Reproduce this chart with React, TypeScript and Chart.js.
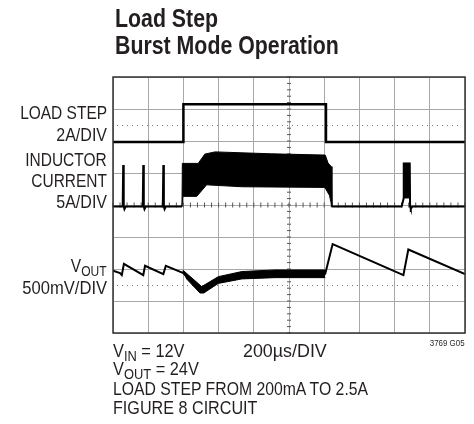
import React, { useEffect, useRef } from "react";
import { Chart, registerables } from "chart.js";

Chart.register(...registerables);

// ---- scope grid (divisions) ----
const xRange = [0, 10];
const yRange = [0, 8];
const dottedLevels = [6.5, 1.5];
const centerX = 5;
const centerY = 4;

// ---- LOAD STEP trace ----
const loadStepX = [0, 2.0, 2.0, 6.05, 6.05, 10];
const loadStepY = [5.97, 5.97, 7.15, 7.15, 5.97, 5.97];

// ---- INDUCTOR CURRENT trace (baseline + burst pulses) ----
const inductorX = [0, 0.275, 0.29, 0.305, 0.325, 0.36, 0.845, 0.86, 0.875, 0.895, 0.93, 1.415, 1.43, 1.445, 1.465, 1.5, 1.96, 4.0, 6.22, 8.2, 8.26, 8.26, 8.43, 8.44, 8.46, 8.5, 10];
const inductorY = [3.95, 3.95, 5.25, 3.95, 3.87, 3.95, 3.95, 5.25, 3.95, 3.87, 3.95, 3.95, 5.25, 3.95, 3.87, 3.95, 3.95, null, 3.95, 3.95, 4.22, 5.3, 5.3, 3.95, 3.88, 3.95, 3.95];

// burst envelope 1 (load high)
const burst1UpperX = [1.96, 1.97, 2.42, 2.61, 2.9, 4.5, 6.03, 6.11, 6.2, 6.22];
const burst1UpperY = [3.95, 5.3, 5.3, 5.59, 5.66, 5.6, 5.56, 5.31, 5.2, 3.95];
const burst1LowerX = [1.96, 1.98, 2.38, 2.66, 3.66, 6.02, 6.15, 6.22];
const burst1LowerY = [3.95, 4.27, 4.27, 4.63, 4.57, 4.55, 4.3, 3.95];

// burst envelope 2
const burst2UpperX = [8.26, 8.43];
const burst2UpperY = [5.3, 5.3];
const burst2LowerX = [8.26, 8.43];
const burst2LowerY = [4.22, 4.22];

// ---- VOUT trace ----
const voutX = [0, 0.2, 0.25, 0.31, 0.86, 0.91, 1.43, 1.5, 2.0, 2.52, 2.99, 3.66, 4.6, 6.03, 6.24, 8.25, 8.39, 10];
const voutY = [1.95, 1.87, 1.81, 2.16, 1.81, 2.1, 1.84, 2.1, 1.87, 1.34, 1.66, 1.8, 1.85, 1.85, 2.78, 1.81, 2.61, 1.84];

const voutBandUpperX = [1.98, 2.52, 2.99, 3.66, 4.6, 6.03];
const voutBandUpperY = [1.97, 1.45, 1.76, 1.92, 1.97, 1.97];
const voutBandLowerX = [1.98, 2.1, 2.47, 2.58, 2.99, 3.66, 4.6, 6.03];
const voutBandLowerY = [1.92, 1.68, 1.25, 1.25, 1.55, 1.69, 1.73, 1.73];

const pts = (xs: number[], ys: (number | null)[]) => xs.map((x, i) => ({ x, y: ys[i] }));

const FONT = "'Liberation Sans', Arial, Helvetica, sans-serif";
const INK = "#231f20";

const scopePlugin = {
  id: "scopeDecor",
  beforeDatasetsDraw(chart: any) {
    const { ctx, chartArea, scales } = chart;
    const xs = scales.x;
    const ys = scales.y;
    ctx.save();
    ctx.strokeStyle = "#777";
    ctx.lineWidth = 1;
    ctx.setLineDash([1, 4]);
    dottedLevels.forEach((v) => {
      const py = Math.round(ys.getPixelForValue(v)) + 0.5;
      ctx.beginPath();
      ctx.moveTo(chartArea.left + 4, py);
      ctx.lineTo(chartArea.right - 4, py);
      ctx.stroke();
    });
    ctx.setLineDash([]);
    ctx.strokeStyle = "#555";
    const cx = xs.getPixelForValue(centerX);
    const cy = ys.getPixelForValue(centerY);
    for (let k = 0; k <= 40; k++) {
      const py = ys.getPixelForValue(k * 0.2);
      ctx.beginPath();
      ctx.moveTo(cx - 2, py);
      ctx.lineTo(cx + 2, py);
      ctx.stroke();
    }
    for (let k = 0; k <= 50; k++) {
      const px = xs.getPixelForValue(k * 0.2);
      ctx.beginPath();
      ctx.moveTo(px, cy - 2.5);
      ctx.lineTo(px, cy + 2.5);
      ctx.stroke();
    }
    ctx.restore();
  },
  afterDatasetsDraw(chart: any) {
    const { ctx, chartArea } = chart;
    ctx.save();
    ctx.strokeStyle = "#333";
    ctx.lineWidth = 1.5;
    ctx.strokeRect(chartArea.left, chartArea.top, chartArea.right - chartArea.left, chartArea.bottom - chartArea.top);
    ctx.restore();
  },
};

function Txt(props: { left?: number; right?: number; baseline: number; size: number; squeeze: number; bold?: boolean; children: React.ReactNode }) {
  const { left, right, baseline, size, squeeze, bold, children } = props;
  const style: React.CSSProperties = {
    position: "absolute",
    top: baseline - 0.8465 * size,
    fontSize: size,
    lineHeight: `${size}px`,
    fontFamily: FONT,
    fontWeight: bold ? 700 : 400,
    color: INK,
    whiteSpace: "nowrap",
  };
  const isRight = right !== undefined;
  if (left !== undefined) style.left = left;
  if (isRight) {
    style.right = 474 - (right as number);
    style.textAlign = "right";
  }
  return (
    <div style={style}>
      <span style={{ display: "inline-block", transform: `scaleX(${squeeze})`, transformOrigin: isRight ? "right center" : "left center" }}>{children}</span>
    </div>
  );
}

function Sub(props: { children: React.ReactNode; size: number }) {
  return <span style={{ fontSize: props.size, verticalAlign: -4 }}>{props.children}</span>;
}

export default function App() {
  const ref = useRef<HTMLCanvasElement | null>(null);

  useEffect(() => {
    if (!ref.current) return;
    const line = (data: any[], extra: any = {}) => ({
      data,
      borderColor: "#000",
      backgroundColor: "#000",
      borderWidth: 2,
      pointRadius: 0,
      tension: 0,
      spanGaps: false,
      fill: false,
      ...extra,
    });
    const chart = new Chart(ref.current, {
      type: "line",
      data: {
        datasets: [
          line(pts(loadStepX, loadStepY), { borderWidth: 2.5 }),
          line(pts(inductorX, inductorY), { borderWidth: 2 }),
          line(pts(burst1UpperX, burst1UpperY), { borderWidth: 1, fill: "+1" }),
          line(pts(burst1LowerX, burst1LowerY), { borderWidth: 1 }),
          line(pts(burst2UpperX, burst2UpperY), { borderWidth: 1, fill: "+1" }),
          line(pts(burst2LowerX, burst2LowerY), { borderWidth: 1 }),
          line(pts(voutX, voutY), { borderWidth: 2 }),
          line(pts(voutBandUpperX, voutBandUpperY), { borderWidth: 1, fill: "+1" }),
          line(pts(voutBandLowerX, voutBandLowerY), { borderWidth: 1 }),
        ],
      },
      options: {
        responsive: false,
        maintainAspectRatio: false,
        animation: false,
        layout: { padding: { left: 113, top: 77, right: 9, bottom: 91 } },
        plugins: { legend: { display: false }, tooltip: { enabled: false } },
        scales: {
          x: {
            type: "linear",
            min: xRange[0],
            max: xRange[1],
            ticks: { display: false, stepSize: 1 },
            grid: { color: "#a8a8a8", lineWidth: 1, drawTicks: false },
            border: { display: false },
          },
          y: {
            type: "linear",
            min: yRange[0],
            max: yRange[1],
            ticks: { display: false, stepSize: 1 },
            grid: { color: "#a8a8a8", lineWidth: 1, drawTicks: false },
            border: { display: false },
          },
        },
      },
      plugins: [scopePlugin],
    });
    return () => chart.destroy();
  }, []);

  return (
    <div style={{ position: "absolute", left: 0, top: 0, width: 474, height: 424, background: "#fff", overflow: "hidden" }}>
      <canvas ref={ref} width={474} height={424} style={{ position: "absolute", left: 0, top: 0, width: 474, height: 424 }} />
      <Txt left={115} baseline={27} size={26} squeeze={0.82} bold>Load Step</Txt>
      <Txt left={115} baseline={54} size={26} squeeze={0.82} bold>Burst Mode Operation</Txt>

      <Txt right={107} baseline={119.5} size={18} squeeze={0.86}>LOAD STEP</Txt>
      <Txt right={107} baseline={141.5} size={18} squeeze={0.89}>2A/DIV</Txt>
      <Txt right={107} baseline={166} size={18} squeeze={0.86}>INDUCTOR</Txt>
      <Txt right={107} baseline={187} size={18} squeeze={0.86}>CURRENT</Txt>
      <Txt right={107} baseline={208.5} size={18} squeeze={0.89}>5A/DIV</Txt>
      <Txt right={107} baseline={272.5} size={18} squeeze={0.86}>V<Sub size={14}>OUT</Sub></Txt>
      <Txt right={107} baseline={294} size={18} squeeze={0.92}>500mV/DIV</Txt>

      <Txt left={113} baseline={357} size={19} squeeze={0.86}>V<Sub size={15}>IN</Sub> = 12V</Txt>
      <Txt left={243} baseline={357} size={19} squeeze={0.94}>200µs/DIV</Txt>
      <Txt right={465} baseline={346.5} size={9} squeeze={0.88}>3769 G05</Txt>
      <Txt left={113} baseline={375.5} size={19} squeeze={0.86}>V<Sub size={15}>OUT</Sub> = 24V</Txt>
      <Txt left={113} baseline={395} size={19} squeeze={0.83}>LOAD STEP FROM 200mA TO 2.5A</Txt>
      <Txt left={113} baseline={414} size={19} squeeze={0.85}>FIGURE 8 CIRCUIT</Txt>
    </div>
  );
}
